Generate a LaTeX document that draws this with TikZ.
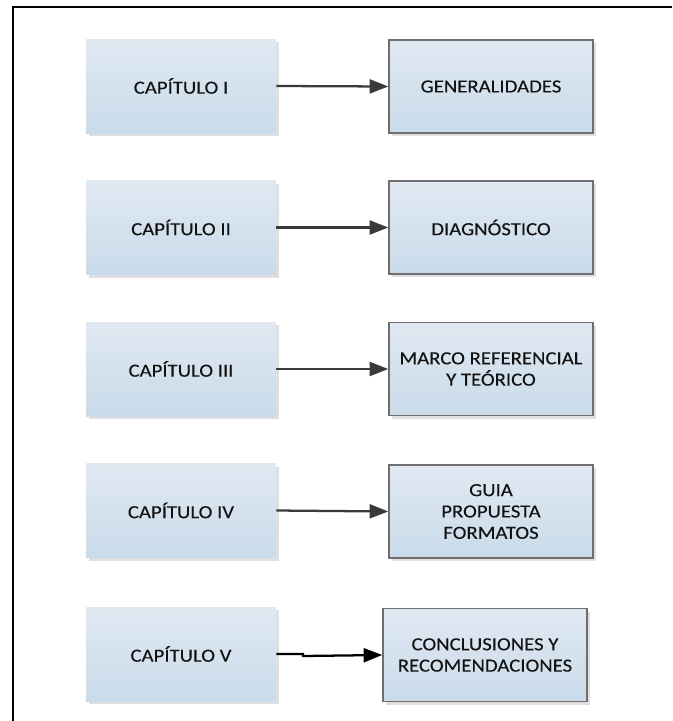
\documentclass[tikz,border=0pt]{standalone}
\usepackage{fontspec}
\setmainfont{Carlito}[FakeStretch=1.12,FakeBold=0.15]
\usetikzlibrary{arrows.meta,shadows}
\definecolor{boxtop}{HTML}{E0E9F2}
\definecolor{boxbot}{HTML}{C9DBEA}
\definecolor{boxline}{HTML}{6E6E6E}
\definecolor{arrowgray}{HTML}{3A3A3A}
\definecolor{shadowgray}{HTML}{DFDFDF}
\definecolor{txt}{HTML}{121212}
\begin{document}
\begin{tikzpicture}[x=0.75pt,y=-0.75pt,
  chapbox/.style={minimum width=142.5pt,minimum height=70.5pt,inner sep=0pt,
    top color=boxtop,bottom color=boxbot,text=txt,align=center,
    font=\fontsize{13.9pt}{16pt}\selectfont,
    drop shadow={shadow xshift=2.5pt,shadow yshift=-2.5pt,fill=shadowgray,opacity=1}},
  topicbox/.style={chapbox,minimum width=153pt,minimum height=69.75pt,
    draw=boxline,line width=1.1pt},
  link/.style={draw=arrowgray,line width=1.7pt,-{Triangle[length=14pt,width=10.5pt]}},
  frameline/.style={draw=black,line width=2.2pt}]
\useasboundingbox (0,0) rectangle (672,721);
% frame
\draw[frameline] (672,7) -- (13,7) -- (13,721);
% chapters
\node[chapbox] (l1) at (181,86) {CAPÍTULO I};
\node[chapbox] (l2) at (181,227.5) {CAPÍTULO II};
\node[chapbox] (l3) at (181,369) {CAPÍTULO III};
\node[chapbox] (l4) at (181,510.5) {CAPÍTULO IV};
\node[chapbox] (l5) at (181,654) {CAPÍTULO V};
% topics
\node[topicbox] (r1) at (491,86.5) {GENERALIDADES};
\node[topicbox] (r2) at (491,227.5) {DIAGNÓSTICO};
\node[topicbox] (r3) at (491,369) {MARCO REFERENCIAL\\Y TEÓRICO};
\node[topicbox] (r4) at (491,511.5) {GUIA\\PROPUESTA\\FORMATOS};
\node[topicbox] (r5) at (485,655) {CONCLUSIONES Y\\RECOMENDACIONES};
% links
\draw[link] (l1.east) -- (r1.west);
\draw[link] (l2.east) -- (r2.west);
\draw[link] (l3.east) -- (r3.west);
\draw[link] (l4.east) -- (r4.west);
\coordinate (j1) at (303,654);
\coordinate (j2) at (303,656);
\draw[link,draw=black] (l5.east) -- (j1) -- (j2) -- (r5.west);
\end{tikzpicture}
\end{document}
